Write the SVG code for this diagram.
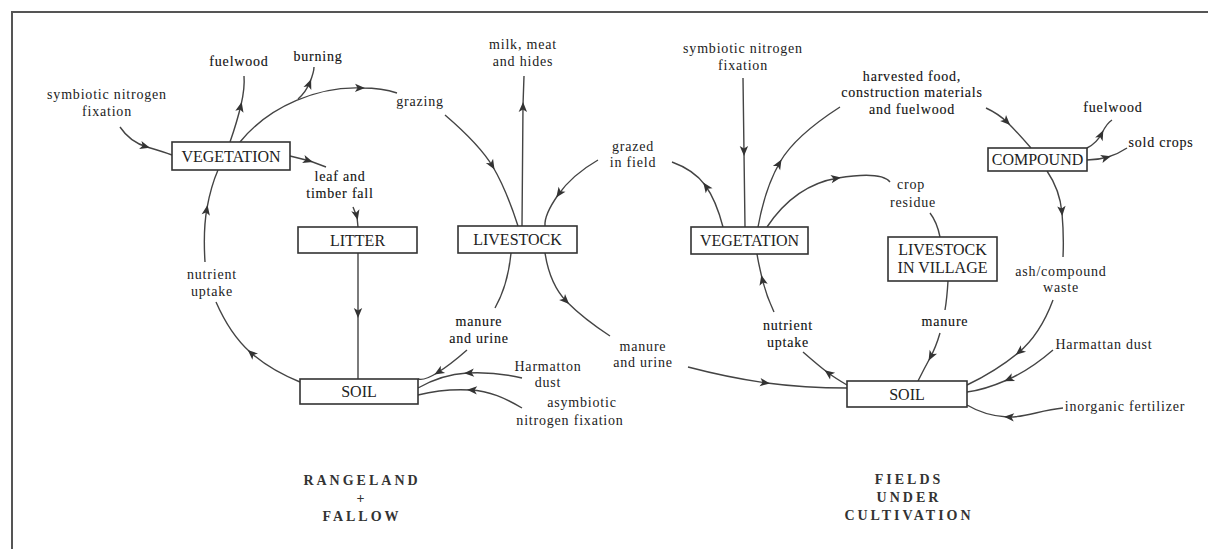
<svg xmlns="http://www.w3.org/2000/svg" width="1208" height="549" viewBox="0 0 1208 549">
<style>
.frame{stroke:#555;stroke-width:2;fill:none}
.box{fill:#fff;stroke:#333;stroke-width:1.6}
.bt{font-family:"Liberation Serif","Times New Roman",serif;font-size:16px;fill:#222;text-anchor:middle}
.lb{font-family:"Liberation Serif","Times New Roman",serif;font-size:14px;letter-spacing:0.8px;fill:#222;text-anchor:middle}
.dk{fill:#111;stroke:#111;stroke-width:0.12}
.ti{font-family:"Liberation Serif","Times New Roman",serif;font-size:14px;font-weight:bold;letter-spacing:3px;fill:#333;text-anchor:middle}
.c{fill:none;stroke:#444;stroke-width:1.4;marker-mid:url(#ah)}
.n{fill:none;stroke:#444;stroke-width:1.4}
</style>
<defs>
<marker id="ah" viewBox="-10 -6 14 12" markerWidth="14" markerHeight="12" refX="0" refY="0" orient="auto" markerUnits="userSpaceOnUse">
<path d="M3,0 L-7,-4.2 L-4.5,0 L-7,4.2 Z" fill="#333"/>
</marker>
</defs>
<rect width="1208" height="549" fill="#fff"/>
<g id="frame">
<line class="frame" x1="11" y1="12" x2="1208" y2="12"/>
<line class="frame" x1="12" y1="11" x2="12" y2="549"/>
</g>
<g id="connectors">
<path class="c" d="M120,127 Q130,142 147,147 T172,155"/>
<path class="c" d="M230,142 Q237,122 241,105 T244,76"/>
<path class="c" d="M240,142 C270,105 320,86 362,88 C375,88 388,90 397,93"/>
<path class="c" d="M298,99 Q306,92 310,82 T314,67"/>
<path class="c" d="M445,115 Q480,145 493,167 T518,226"/>
<path class="c" d="M522,226 L523,105 L524,76"/>
<path class="c" d="M598,160 Q572,175 558,195 T545,226"/>
<path class="n" d="M511,253 Q508,285 495,308"/>
<path class="c" d="M467,350 Q450,365 437,373 T418,379"/>
<path class="c" d="M545,253 Q550,285 567,302 T610,336"/>
<path class="c" d="M688,367 Q730,378 767,383 T847,388"/>
<path class="c" d="M290,156 L310,161 L326,167"/>
<path class="c" d="M353,207 L357,217 L358,227"/>
<path class="c" d="M358,253 L358,315 L358,379"/>
<path class="c" d="M522,378 C505,374 485,372 467,373 C450,374 432,380 418,388"/>
<path class="c" d="M522,408 C505,398 490,391 470,390 C450,389 430,392 418,395"/>
<path class="c" d="M300,382 Q270,370 250,352 T216,302"/>
<path class="c" d="M205,262 Q203,230 207,208 T218,170"/>
<path class="c" d="M743,78 L744,153 L745,227"/>
<path class="c" d="M723,227 Q716,200 705,185 T672,162"/>
<path class="c" d="M758,227 Q765,188 780,162 T840,107"/>
<path class="c" d="M767,227 Q795,185 838,178 T890,182"/>
<path class="n" d="M930,213 Q937,222 940,237"/>
<path class="n" d="M948,281 Q947,298 945,310"/>
<path class="c" d="M940,333 Q936,347 930,358 T918,381"/>
<path class="c" d="M847,385 Q835,378 827,372 T803,352"/>
<path class="c" d="M774,312 Q766,295 762,278 T757,254"/>
<path class="c" d="M986,108 Q999,114 1008,123 T1031,148"/>
<path class="c" d="M1087,148 Q1097,143 1102,133 T1112,120"/>
<path class="c" d="M1087,160 Q1098,160 1108,157 T1127,148"/>
<path class="c" d="M1047,171 Q1060,190 1062,213 T1063,257"/>
<path class="c" d="M1053,300 Q1040,335 1018,353 T967,385"/>
<path class="c" d="M1053,350 Q1030,370 1007,380 T967,392"/>
<path class="c" d="M1063,408 C1040,410 1025,418 1007,417 C990,416 977,411 967,405"/>
</g>
<g id="vegetation-left"><rect class="box" x="172" y="142" width="118" height="28"/><text class="bt" x="231" y="162">VEGETATION</text></g>
<g id="litter"><rect class="box" x="298" y="227" width="119" height="26"/><text class="bt" x="357.5" y="246">LITTER</text></g>
<g id="livestock"><rect class="box" x="458" y="226" width="119" height="27"/><text class="bt" x="517.5" y="245">LIVESTOCK</text></g>
<g id="soil-left"><rect class="box" x="300" y="379" width="118" height="25"/><text class="bt" x="359" y="397">SOIL</text></g>
<g id="vegetation-right"><rect class="box" x="691" y="227" width="117" height="27"/><text class="bt" x="749.5" y="246">VEGETATION</text></g>
<g id="livestock-village"><rect class="box" x="888" y="237" width="109" height="44"/><text class="bt" x="942.5" y="255">LIVESTOCK</text><text class="bt" x="942.5" y="273">IN VILLAGE</text></g>
<g id="soil-right"><rect class="box" x="847" y="381" width="120" height="26"/><text class="bt" x="907" y="400">SOIL</text></g>
<g id="compound"><rect class="box" x="988" y="148" width="99" height="23"/><text class="bt" x="1037.5" y="165">COMPOUND</text></g>
<g id="labels">
<text class="lb" x="107" y="99">symbiotic nitrogen</text>
<text class="lb" x="107" y="116">fixation</text>
<text class="lb dk" x="239" y="66">fuelwood</text>
<text class="lb dk" x="318" y="61">burning</text>
<text class="lb" x="420" y="106">grazing</text>
<text class="lb" x="523" y="49">milk, meat</text>
<text class="lb" x="523" y="66">and hides</text>
<text class="lb" x="633" y="151">grazed</text>
<text class="lb" x="633" y="167">in field</text>
<text class="lb dk" x="340" y="181">leaf and</text>
<text class="lb dk" x="340" y="198">timber fall</text>
<text class="lb" x="212" y="279">nutrient</text>
<text class="lb" x="212" y="296">uptake</text>
<text class="lb dk" x="479" y="326">manure</text>
<text class="lb dk" x="479" y="343">and urine</text>
<text class="lb" x="548" y="371">Harmatton</text>
<text class="lb" x="548" y="387">dust</text>
<text class="lb" x="582" y="407">asymbiotic</text>
<text class="lb" x="570" y="425">nitrogen fixation</text>
<text class="lb" x="643" y="351">manure</text>
<text class="lb" x="643" y="367">and urine</text>
<text class="lb" x="743" y="53">symbiotic nitrogen</text>
<text class="lb" x="743" y="70">fixation</text>
<text class="lb dk" x="912" y="81">harvested food,</text>
<text class="lb dk" x="912" y="97">construction materials</text>
<text class="lb dk" x="912" y="114">and fuelwood</text>
<text class="lb" x="911" y="189">crop</text>
<text class="lb" x="913" y="207">residue</text>
<text class="lb dk" x="1113" y="112">fuelwood</text>
<text class="lb dk" x="1161" y="147">sold crops</text>
<text class="lb" x="1061" y="276">ash/compound</text>
<text class="lb" x="1061" y="292">waste</text>
<text class="lb dk" x="945" y="326">manure</text>
<text class="lb dk" x="788" y="330">nutrient</text>
<text class="lb dk" x="788" y="347">uptake</text>
<text class="lb" x="1104" y="349">Harmattan dust</text>
<text class="lb" x="1125" y="411">inorganic fertilizer</text>
</g>
<g id="titles">
<text class="ti" x="362" y="485">RANGELAND</text>
<text class="ti" x="362" y="503">+</text>
<text class="ti" x="362" y="521">FALLOW</text>
<text class="ti" x="909" y="484">FIELDS</text>
<text class="ti" x="909" y="502">UNDER</text>
<text class="ti" x="909" y="520">CULTIVATION</text>
</g>
</svg>
